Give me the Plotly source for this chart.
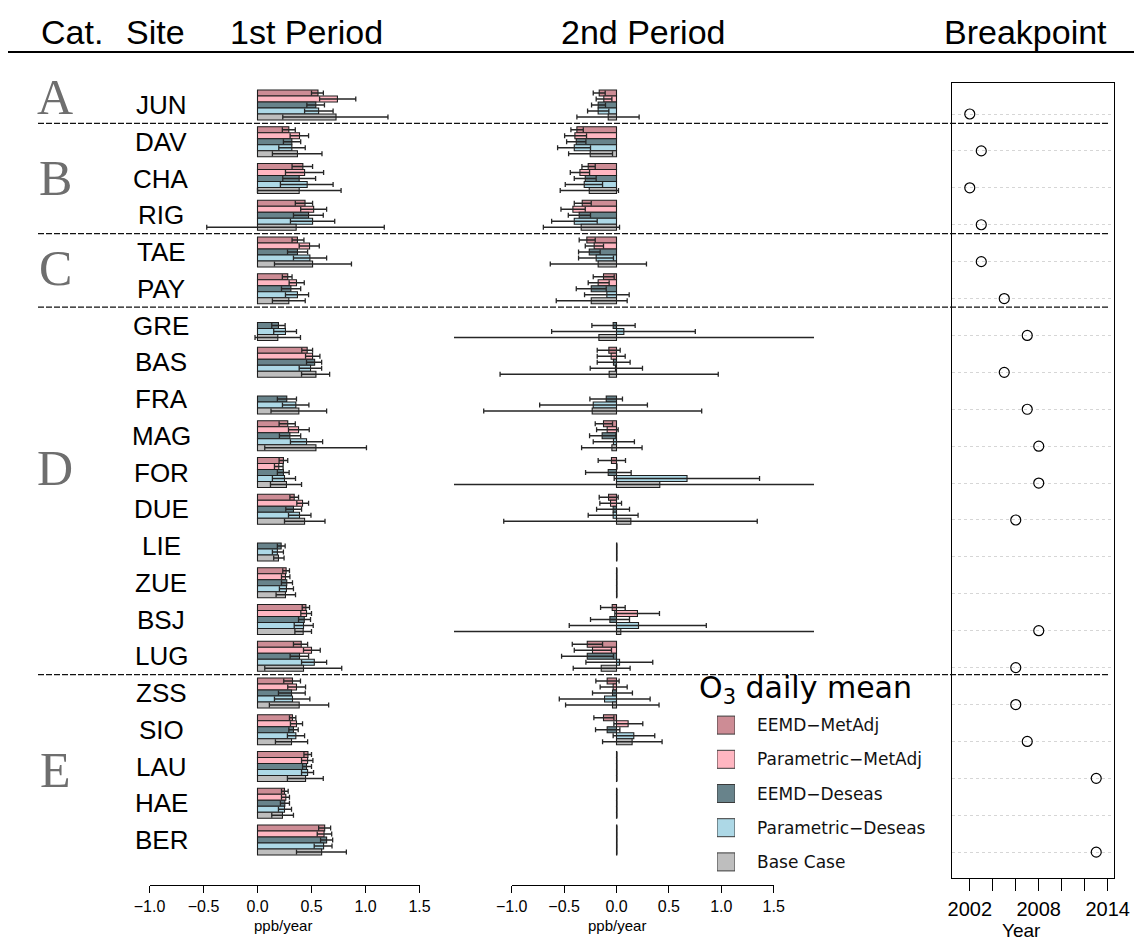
import plotly.graph_objects as go

# ---------------- data ----------------
sites = ["JUN", "DAV", "CHA", "RIG", "TAE", "PAY", "GRE", "BAS", "FRA", "MAG", "FOR",
         "DUE", "LIE", "ZUE", "BSJ", "LUG", "ZSS", "SIO", "LAU", "HAE", "BER"]
categories = ["A", "B", "C", "D", "E"]
category_rows = [-0.22, 1.99, 4.43, 9.88, 18.1]
group_last_index = [0, 3, 5, 15]          # separators after these sites

series_names = ["EEMD\u2212MetAdj", "Parametric\u2212MetAdj", "EEMD\u2212Deseas",
                "Parametric\u2212Deseas", "Base Case"]
series_colors = ["#CD8C95", "#FFB6C1", "#68838B", "#ADD8E6", "#BEBEBE"]

N = None
# 1st period trends (ppb/year) and confidence limits
p1_em = [0.56, 0.29, 0.42, 0.44, 0.37, 0.28, N, 0.46, N, 0.28, 0.24, 0.34, N, 0.265, 0.448, 0.405, 0.324, 0.324, 0.467, 0.25, 0.622]
p1_em_lo = [0.50, 0.23, 0.32, 0.35, 0.32, 0.23, N, 0.41, N, 0.20, 0.20, 0.30, N, 0.234, 0.414, 0.333, 0.243, 0.296, 0.43, 0.222, 0.566]
p1_em_hi = [0.61, 0.35, 0.51, 0.51, 0.43, 0.32, N, 0.51, N, 0.35, 0.28, 0.38, N, 0.296, 0.482, 0.464, 0.398, 0.355, 0.50, 0.284, 0.677]

p1_pm = [0.74, 0.389, 0.436, 0.52, 0.482, 0.361, N, 0.51, N, 0.38, 0.197, 0.417, N, 0.259, 0.454, 0.50, 0.361, 0.361, 0.464, 0.262, 0.616]
p1_pm_lo = [0.575, 0.302, 0.259, 0.40, 0.386, 0.293, N, 0.445, N, 0.287, 0.157, 0.364, N, 0.222, 0.401, 0.426, 0.28, 0.305, 0.408, 0.222, 0.553]
p1_pm_hi = [0.91, 0.473, 0.612, 0.64, 0.572, 0.433, N, 0.578, N, 0.479, 0.237, 0.473, N, 0.30, 0.50, 0.581, 0.445, 0.417, 0.513, 0.296, 0.687]

p1_ed = [0.54, 0.318, 0.386, 0.473, 0.37, 0.309, 0.194, 0.529, 0.271, 0.30, 0.24, 0.333, 0.219, 0.271, 0.433, 0.389, 0.315, 0.333, 0.454, 0.253, 0.64]
p1_ed_lo = [0.457, 0.24, 0.234, 0.333, 0.278, 0.222, 0.132, 0.454, 0.184, 0.203, 0.184, 0.262, 0.184, 0.222, 0.38, 0.302, 0.194, 0.29, 0.417, 0.212, 0.584]
p1_ed_hi = [0.62, 0.40, 0.538, 0.609, 0.464, 0.40, 0.256, 0.594, 0.361, 0.40, 0.293, 0.408, 0.256, 0.324, 0.491, 0.473, 0.442, 0.377, 0.50, 0.296, 0.696]

p1_pd = [0.566, 0.318, 0.46, 0.51, 0.485, 0.37, 0.259, 0.491, 0.355, 0.454, 0.25, 0.389, 0.184, 0.268, 0.426, 0.526, 0.324, 0.355, 0.464, 0.25, 0.612]
p1_pd_lo = [0.436, 0.197, 0.212, 0.305, 0.333, 0.259, 0.15, 0.386, 0.231, 0.305, 0.138, 0.287, 0.138, 0.203, 0.34, 0.408, 0.157, 0.277, 0.408, 0.194, 0.525]
p1_pd_hi = [0.70, 0.442, 0.70, 0.715, 0.64, 0.473, 0.361, 0.594, 0.476, 0.603, 0.352, 0.495, 0.24, 0.333, 0.516, 0.64, 0.485, 0.436, 0.519, 0.315, 0.69]

p1_bc = [0.727, 0.37, 0.386, 0.358, 0.51, 0.29, 0.188, 0.541, 0.383, 0.541, 0.268, 0.436, 0.194, 0.259, 0.423, 0.426, 0.386, 0.315, 0.445, 0.231, 0.594]
p1_bc_lo = [0.234, 0.138, 0.0, -0.47, 0.157, 0.138, -0.023, 0.408, 0.125, 0.067, 0.12, 0.25, 0.15, 0.172, 0.346, 0.067, 0.11, 0.166, 0.277, 0.132, 0.361]
p1_bc_hi = [1.208, 0.597, 0.774, 1.174, 0.87, 0.442, 0.398, 0.668, 0.64, 1.009, 0.408, 0.625, 0.246, 0.352, 0.50, 0.78, 0.659, 0.464, 0.609, 0.333, 0.823]

# 2nd period trends (ppb/year); ~0 where no second period, +-9 = off-scale limits
p2_em = [-0.165, -0.378, -0.27, -0.327, -0.283, -0.124, N, -0.073, N, -0.124, -0.048, -0.076, N, 0.003, -0.041, -0.279, -0.089, -0.124, 0.003, 0.003, 0.003]
p2_em_lo = [-0.222, -0.435, -0.33, -0.403, -0.356, -0.222, N, -0.184, N, -0.203, -0.175, -0.165, N, N, -0.152, -0.422, -0.197, -0.216, N, N, N]
p2_em_hi = [-0.108, -0.317, -0.203, -0.241, -0.203, -0.022, N, 0.035, N, -0.038, 0.086, 0.016, N, N, 0.083, -0.133, 0.025, -0.025, N, N, N]

p2_pm = [-0.121, -0.397, -0.349, -0.416, -0.213, -0.175, N, -0.051, N, -0.089, 0.003, -0.057, N, 0.003, 0.2, -0.229, -0.032, 0.111, 0.003, 0.003, 0.003]
p2_pm_lo = [-0.194, -0.495, -0.441, -0.53, -0.298, -0.27, N, -0.184, N, -0.19, N, -0.159, N, N, -0.016, -0.403, -0.156, -0.025, N, N, N]
p2_pm_hi = [-0.044, -0.286, -0.257, -0.298, -0.124, -0.07, N, 0.083, N, 0.016, N, 0.048, N, N, 0.41, -0.048, 0.102, 0.251, N, N, N]

p2_ed = [-0.175, -0.384, -0.298, -0.356, -0.26, -0.241, -0.032, -0.029, -0.098, -0.137, -0.079, -0.032, 0.003, 0.003, -0.063, -0.279, -0.038, -0.089, 0.003, 0.003, 0.003]
p2_ed_lo = [-0.238, -0.476, -0.403, -0.46, -0.362, -0.384, -0.235, -0.184, -0.254, -0.257, -0.295, -0.19, N, N, -0.248, -0.524, -0.229, -0.2, N, N, N]
p2_ed_hi = [-0.105, -0.292, -0.194, -0.248, -0.156, -0.098, 0.178, 0.13, 0.057, -0.006, 0.14, 0.124, N, N, 0.124, -0.029, 0.152, 0.032, N, N, N]

p2_pd = [-0.175, -0.403, -0.308, -0.403, -0.194, -0.092, 0.07, -0.01, -0.222, -0.029, 0.673, -0.032, 0.003, 0.003, 0.21, 0.029, -0.114, 0.165, 0.003, 0.003, 0.003]
p2_pd_lo = [-0.276, -0.562, -0.489, -0.619, -0.362, -0.305, -0.619, -0.251, -0.733, -0.222, -0.022, -0.27, N, N, -0.451, -0.292, -0.546, -0.032, N, N, N]
p2_pd_hi = [-0.073, -0.248, -0.133, -0.184, -0.029, 0.121, 0.752, 0.248, 0.295, 0.171, 1.365, 0.206, N, N, 0.857, 0.346, 0.321, 0.365, N, N, N]

p2_bc = [-0.079, -0.251, -0.26, -0.337, -0.175, -0.241, -0.168, -0.07, -0.232, -0.044, 0.413, 0.137, 0.003, 0.003, 0.041, -0.146, -0.038, 0.149, 0.003, 0.003, 0.003]
p2_bc_lo = [-0.378, -0.457, -0.537, -0.698, -0.632, -0.575, -9.0, -1.111, -1.267, -0.333, -9.0, -1.076, N, N, -9.0, -0.413, -0.486, -0.133, N, N, N]
p2_bc_hi = [0.216, -0.038, 0.019, 0.029, 0.286, 0.102, 9.0, 0.971, 0.813, 0.244, 9.0, 1.343, N, N, 9.0, 0.13, 0.406, 0.435, N, N, N]

breakpoint_year = [2002, 2003, 2002, 2003, 2003, 2005, 2007, 2005, 2007, 2008, 2008,
                   2006, N, N, 2008, 2006, 2006, 2007, 2013, N, 2013]

trend_ticks = [-1.0, -0.5, 0.0, 0.5, 1.0, 1.5]
year_ticks = [2002, 2004, 2006, 2008, 2010, 2012, 2014]
year_ticklabels = ["2002", "", "", "2008", "", "", "2014"]
headers = ["Cat.", "Site", "1st Period", "2nd Period", "Breakpoint"]
header_x_px = [72, 155, 306, 643, 1025]

period1 = [(p1_em, p1_em_lo, p1_em_hi), (p1_pm, p1_pm_lo, p1_pm_hi), (p1_ed, p1_ed_lo, p1_ed_hi),
           (p1_pd, p1_pd_lo, p1_pd_hi), (p1_bc, p1_bc_lo, p1_bc_hi)]
period2 = [(p2_em, p2_em_lo, p2_em_hi), (p2_pm, p2_pm_lo, p2_pm_hi), (p2_ed, p2_ed_lo, p2_ed_hi),
           (p2_pd, p2_pd_lo, p2_pd_hi), (p2_bc, p2_bc_lo, p2_bc_hi)]

# ---------------- layout helpers ----------------
W, H = 1134, 940
def px_x(p):
    return p / W
def px_y(p):
    return (H - p) / H

rows = list(range(len(sites)))
ROW0, ROWSP = 105.0, 36.75
main_range = [(H - ROW0) / ROWSP, -ROW0 / ROWSP]

P2_ZERO, P2_SCALE = 616.5, 104.8
p2_left, p2_right = 454.0, 814.0
P1_ZERO, P1_SCALE = 257.5, 108.0

SANS = "Liberation Sans, Arial, sans-serif"
DV = "DejaVu Sans, Verdana, sans-serif"
SERIF = "Liberation Serif, Times New Roman, serif"

fig = go.Figure()

def err_arrays(vals, lo, hi):
    plus, minus = [], []
    for v, l, h in zip(vals, lo, hi):
        if v is None or l is None or h is None:
            plus.append(None); minus.append(None)
        else:
            plus.append(h - v); minus.append(v - l)
    return plus, minus

for period, xa in ((period1, "x"), (period2, "x2")):
    for k, (vals, lo, hi) in enumerate(period):
        plus, minus = err_arrays(vals, lo, hi)
        fig.add_trace(go.Bar(
            x=vals, y=rows, orientation="h", xaxis=xa, yaxis="y",
            name=series_names[k], showlegend=False,
            marker=dict(color=series_colors[k], line=dict(color="#1e1e1e", width=1.1)),
            error_x=dict(type="data", symmetric=False, array=plus, arrayminus=minus,
                         color="#262626", thickness=1.3, width=2.5),
            hoverinfo="skip"))

fig.add_trace(go.Scatter(x=[None], y=[None], xaxis="x4", yaxis="y", showlegend=False,
                         hoverinfo="skip"))

fig.add_trace(go.Scatter(
    x=breakpoint_year, y=rows, xaxis="x3", yaxis="y2", mode="markers", showlegend=False,
    marker=dict(symbol="circle-open", size=10, color="black", line=dict(width=1.2)),
    hoverinfo="skip"))

fig.add_trace(go.Scatter(
    x=[0] * len(series_names), y=list(range(len(series_names))), xaxis="x5", yaxis="y3",
    mode="markers", showlegend=False, hoverinfo="skip",
    marker=dict(symbol="square", size=18, color=series_colors,
                line=dict(color="#3a3a3a", width=1))))

tick_common = dict(ticks="outside", ticklen=7, tickwidth=1, tickcolor="black",
                   showline=True, linecolor="black", linewidth=1, showgrid=False,
                   zeroline=False, tickvals=trend_ticks, tickformat=".1f", automargin=False,
                   tickfont=dict(family=SANS, size=16, color="black"))

major_years = [y for y, l in zip(year_ticks, year_ticklabels) if l]
minor_years = [y for y, l in zip(year_ticks, year_ticklabels) if not l]

fig.update_layout(
    width=W, height=H, margin=dict(l=0, r=0, t=0, b=0, pad=0, autoexpand=False),
    autosize=False, paper_bgcolor="white", plot_bgcolor="rgba(0,0,0,0)",
    barmode="group", bargap=0.184, bargroupgap=0,
    showlegend=False,
    yaxis=dict(domain=[0, 1], range=main_range, visible=False, fixedrange=True, automargin=False),
    xaxis=dict(domain=[px_x(P1_ZERO - P1_SCALE), px_x(P1_ZERO + 1.5 * P1_SCALE)], range=[-1, 1.5],
               anchor="free", position=px_y(885), **tick_common),
    xaxis2=dict(domain=[px_x(p2_left), px_x(p2_right)],
                range=[(p2_left - P2_ZERO) / P2_SCALE, (p2_right - P2_ZERO) / P2_SCALE],
                anchor="y", visible=False, automargin=False),
    xaxis4=dict(domain=[px_x(P2_ZERO - P2_SCALE), px_x(P2_ZERO + 1.5 * P2_SCALE)], range=[-1, 1.5],
                anchor="free", position=px_y(885), **tick_common),
    xaxis3=dict(domain=[px_x(952.3), px_x(1113.7)], range=[2000.48, 2014.52], anchor="y2",
                showline=True, mirror=True, linecolor="black", linewidth=1, showgrid=False,
                zeroline=False, ticks="outside", ticklen=12, tickwidth=1, tickcolor="black",
                tickmode="array", tickvals=major_years, ticklabelstandoff=1, automargin=False,
                tickfont=dict(family=SANS, size=20, color="black"),
                minor=dict(tickmode="array", tickvals=minor_years, ticks="outside", ticklen=12,
                           tickwidth=1, tickcolor="black", showgrid=False)),
    yaxis2=dict(domain=[px_y(878), px_y(83)], range=[20.7, -0.84], anchor="x3",
                showline=True, mirror=True, linecolor="black", linewidth=1,
                showgrid=True, gridcolor="#d6d6d6", griddash="dot", gridwidth=1,
                tickvals=rows, showticklabels=False, ticks="", zeroline=False, automargin=False),
    xaxis5=dict(domain=[px_x(717), px_x(735)], range=[-1, 1], anchor="y3", visible=False,
                automargin=False),
    yaxis3=dict(domain=[px_y(879), px_y(708)], range=[len(series_names) - 0.5, -0.5],
                anchor="x5", visible=False, automargin=False),
)

ann = []
for txt, xp in zip(headers, header_x_px):
    ann.append(dict(text=txt, x=px_x(xp), y=px_y(32), xref="paper", yref="paper",
                    xanchor="center", yanchor="middle", showarrow=False,
                    font=dict(family=SANS, size=34, color="black")))
for i, s in enumerate(sites):
    ann.append(dict(text=s, x=px_x(161), y=i, xref="paper", yref="y", xanchor="center",
                    yanchor="middle", showarrow=False,
                    font=dict(family=SANS, size=26, color="black")))
for c, r in zip(categories, category_rows):
    ann.append(dict(text=c, x=px_x(55), y=r, xref="paper", yref="y", xanchor="center",
                    yanchor="middle", showarrow=False,
                    font=dict(family=SERIF, size=50, color="#6e6e6e")))
for xp in (283, 617):
    ann.append(dict(text="ppb/year", x=px_x(xp), y=px_y(925), xref="paper", yref="paper",
                    xanchor="center", yanchor="middle", showarrow=False,
                    font=dict(family=SANS, size=15, color="black")))
ann.append(dict(text="Year", x=px_x(1021), y=px_y(930), xref="paper", yref="paper",
                xanchor="center", yanchor="middle", showarrow=False,
                font=dict(family=SANS, size=19, color="black")))
ann.append(dict(text="O<sub>3</sub> daily mean", x=px_x(697), y=px_y(689), xref="paper",
                yref="paper", xanchor="left", yanchor="middle", showarrow=False,
                font=dict(family=DV, size=30, color="black")))
for k, nm in enumerate(series_names):
    ann.append(dict(text=nm, x=px_x(755), y=k, xref="paper", yref="y3", xanchor="left",
                    yanchor="middle", showarrow=False,
                    font=dict(family=DV, size=17, color="#111111")))
fig.update_layout(annotations=ann)

shapes = [dict(type="line", xref="paper", yref="paper", x0=px_x(8), x1=1.0,
               y0=px_y(52), y1=px_y(52), line=dict(color="black", width=2))]
for g in group_last_index:
    shapes.append(dict(type="line", xref="paper", yref="y", x0=px_x(38), x1=px_x(1110),
                       y0=g + 0.5, y1=g + 0.5,
                       line=dict(color="#111111", width=1.3, dash="6px,2px")))
fig.update_layout(shapes=shapes)

fig.write_html("out.html")
